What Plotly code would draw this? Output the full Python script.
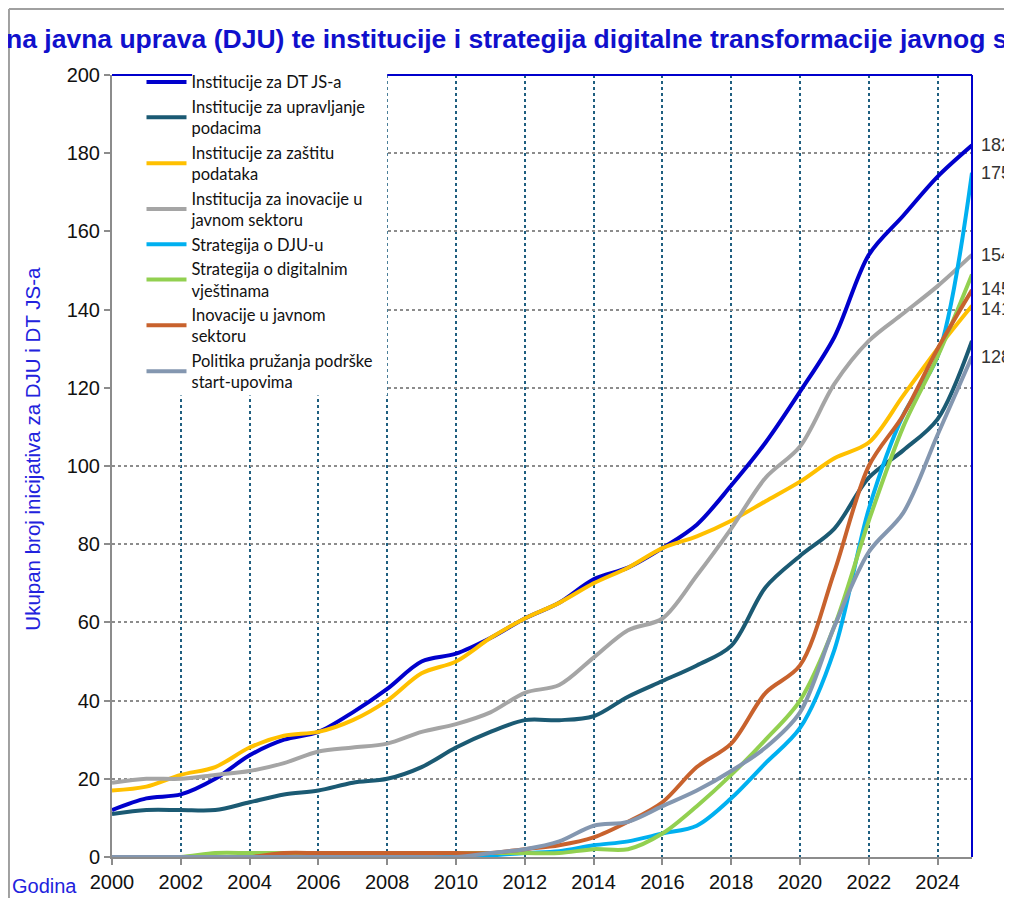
import plotly.graph_objects as go

years = list(range(2000, 2026))

series_names = [
    "Institucije za DT JS-a",
    "Institucije za upravljanje<br>podacima",
    "Institucije za zaštitu<br>podataka",
    "Institucija za inovacije u<br>javnom sektoru",
    "Strategija o DJU-u",
    "Strategija o digitalnim<br>vještinama",
    "Inovacije u javnom<br>sektoru",
    "Politika pružanja podrške<br>start-upovima",
]

inst_dt = [12, 15, 16, 20, 26, 30, 32, 37, 43, 50, 52, 56, 61, 65, 71, 74, 79, 85, 95, 106, 119, 133, 154, 164, 174, 182]
inst_podaci = [11, 12, 12, 12, 14, 16, 17, 19, 20, 23, 28, 32, 35, 35, 36, 41, 45, 49, 54, 69, 77, 84, 97, 104, 112, 132]
inst_zastita = [17, 18, 21, 23, 28, 31, 32, 35, 40, 47, 50, 56, 61, 65, 70, 74, 79, 82, 86, 91, 96, 102, 106, 118, 130, 141]
inst_inovacije = [19, 20, 20, 21, 22, 24, 27, 28, 29, 32, 34, 37, 42, 44, 51, 58, 61, 72, 84, 97, 105, 121, 132, 139, 146, 154]
strat_dju = [0, 0, 0, 0, 0, 0, 0, 0, 0, 0, 0, 0.4, 1, 1.5, 3, 4, 6, 8, 15, 24, 33, 53, 89, 113, 128, 175]
strat_vjestine = [0, 0, 0, 1, 1, 1, 1, 1, 1, 1, 1, 1, 1, 1, 2, 2, 6, 13, 21, 30, 40, 59, 86, 110, 128, 149]
inovacije_js = [0, 0, 0, 0, 0, 1, 1, 1, 1, 1, 1, 1, 2, 3, 5, 9, 14, 23, 29, 42, 49, 73, 100, 113, 130, 145]
politika_startup = [0, 0, 0, 0, 0, 0, 0, 0, 0, 0, 0, 1, 2, 4, 8, 9, 13, 17, 22, 28, 37, 59, 78, 88, 108, 128]

series_values = [inst_dt, inst_podaci, inst_zastita, inst_inovacije,
                 strat_dju, strat_vjestine, inovacije_js, politika_startup]
series_colors = ["#0000CC", "#1B5A73", "#FFC000", "#A5A5A5",
                 "#00B0F0", "#92D050", "#C8622D", "#8497B0"]
# which series get an end-value label
end_labelled = [True, False, True, True, True, False, True, True]
end_label_shift = [0, 0, -3, 0, 0, 0, 1, 0]

x_ticks = list(range(2000, 2025, 2))
y_ticks = list(range(0, 201, 20))

title_text = "Digitalna javna uprava (DJU) te institucije i strategija digitalne transformacije javnog sektora"
y_title = "Ukupan broj inicijativa za DJU i DT JS-a"
x_title = "Godina"

fig = go.Figure()
for name, vals, col in zip(series_names, series_values, series_colors):
    fig.add_trace(go.Scatter(
        x=years, y=vals, name=name, mode="lines",
        line=dict(color=col, width=4, shape="spline", smoothing=0.9),
    ))

for vals, lab, shift in zip(series_values, end_labelled, end_label_shift):
    if lab:
        fig.add_annotation(x=years[-1], y=vals[-1], text=str(vals[-1]), showarrow=False,
                           xanchor="left", xshift=7, yshift=shift,
                           font=dict(family="Liberation Sans", size=18, color="#333333"))

# axis titles as annotations
fig.add_annotation(xref="paper", yref="paper", x=-0.092, y=0.522, text=y_title,
                   textangle=-90, showarrow=False, xanchor="center", yanchor="middle",
                   font=dict(family="Liberation Sans", size=20.5, color="#2222DD"))
fig.add_annotation(xref="paper", yref="paper", x=-0.078, y=-0.037, text=x_title,
                   showarrow=False, xanchor="center", yanchor="middle",
                   font=dict(family="Liberation Sans", size=20, color="#2222DD"))

# white area behind legend (covers grid)
fig.add_shape(type="rect", xref="x", yref="y", x0=2000, x1=2008, y0=118, y1=200,
              fillcolor="white", line=dict(width=0), layer="between")
# blue top and right border
fig.add_shape(type="line", xref="x", yref="paper", x0=2000, x1=2002.33, y0=1, y1=1,
              line=dict(color="#0000CC", width=2), layer="above")
fig.add_shape(type="line", xref="x", yref="paper", x0=2008, x1=2025, y0=1, y1=1,
              line=dict(color="#0000CC", width=2), layer="above")
fig.add_shape(type="line", xref="paper", yref="paper", x0=1, x1=1, y0=0, y1=1,
              line=dict(color="#0000CC", width=2), layer="above")
# grey outer frame
fig.add_shape(type="line", xref="paper", yref="paper", x0=-0.1198, x1=1.1, y0=1.0844, y1=1.0844,
              line=dict(color="#A0A0A0", width=2))
fig.add_shape(type="line", xref="paper", yref="paper", x0=-0.1198, x1=-0.1198, y0=-0.1, y1=1.0844,
              line=dict(color="#A0A0A0", width=2))

fig.update_layout(
    width=996, height=890,
    margin=dict(l=104, r=32, t=67, b=41, autoexpand=False),
    paper_bgcolor="white", plot_bgcolor="white",
    title=dict(text="<b>" + title_text + "</b>", x=0.5, xref="container", xanchor="center",
               y=1 - 31 / 890, yref="container", yanchor="middle",
               font=dict(family="Liberation Sans", size=26.5, color="#1010CC")),
    showlegend=True,
    legend=dict(x=0.0343, y=1.013, xanchor="left", yanchor="top", bgcolor="rgba(0,0,0,0)",
                font=dict(family="Lato", size=16.5, color="#111111"),
                itemwidth=40, tracegroupgap=0),
    xaxis=dict(range=[2000, 2025], tickmode="array", tickvals=x_ticks,
               ticktext=[str(t) for t in x_ticks], automargin=False,
               showgrid=True, gridcolor="#1F5F80", griddash="dot", gridwidth=2,
               showline=True, linecolor="#8C8C8C", linewidth=2,
               ticks="outside", tickcolor="#8C8C8C", ticklen=6, tickwidth=2,
               tickfont=dict(family="Liberation Sans", size=20, color="#111111"),
               zeroline=False),
    yaxis=dict(range=[0, 200], tickmode="array", tickvals=y_ticks, automargin=False,
               showgrid=True, gridcolor="#8C8C8C", griddash="dot", gridwidth=2,
               showline=True, linecolor="#8C8C8C", linewidth=2,
               ticks="outside", tickcolor="#8C8C8C", ticklen=6, tickwidth=2,
               tickfont=dict(family="Liberation Sans", size=20, color="#111111"),
               zeroline=False),
)

fig.write_html("out.html")
